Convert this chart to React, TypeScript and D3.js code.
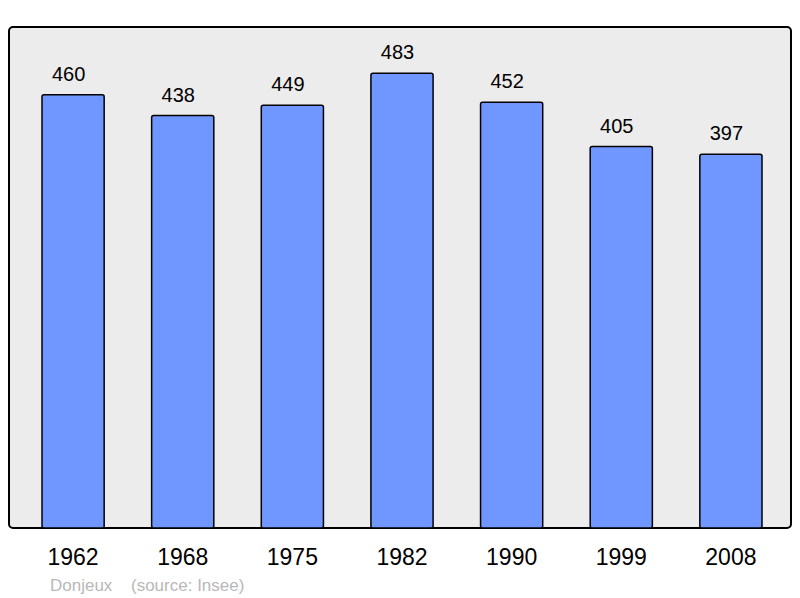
import React from 'react'
import * as d3 from 'd3'

const years = ['1962', '1968', '1975', '1982', '1990', '1999', '2008']
const population = [460, 438, 449, 483, 452, 405, 397]
const town = 'Donjeux'
const source = '(source: Insee)'

export default function App() {
  const width = 800
  const height = 598

  // panel frame
  const panel = { x: 9, y: 27, w: 782, h: 501 }

  const x = d3.scaleBand()
    .domain(years)
    .range([42, 762])
    .paddingInner(0.433)
    .paddingOuter(0)

  const y = d3.scaleLinear()
    .domain([0, 532])
    .range([panel.y + panel.h, panel.y])

  const font = '"Liberation Sans", Arial, sans-serif'

  return (
    <svg width={width} height={height} style={{ position: 'absolute', left: 0, top: 0 }}>
      <rect x={panel.x} y={panel.y} width={panel.w} height={panel.h} rx={4}
        fill="#ececec" stroke="#000" strokeWidth={2} />
      {years.map((yr, i) => {
        const cx = (x(yr) as number) + x.bandwidth() / 2
        return (
          <g key={yr}>
            <rect x={x(yr)} y={y(population[i])} width={x.bandwidth()}
              height={y(0) - y(population[i])} rx={2}
              fill="#7097ff" stroke="#000" strokeWidth={1.5} />
            {/* value labels sit a little left of the bar centre */}
            <text x={cx - 4.5} y={y(population[i]) - 14}
              textAnchor="middle" fontFamily={font} fontSize={20} fill="#000">
              {population[i]}
            </text>
            <text x={cx} y={565}
              textAnchor="middle" fontFamily={font} fontSize={23} fill="#000">
              {yr}
            </text>
          </g>
        )
      })}
      <text x={50} y={591} fontFamily={font} fontSize={17} fill="#b8b8b8">{town}</text>
      <text x={131} y={591} fontFamily={font} fontSize={17} fill="#b8b8b8">{source}</text>
    </svg>
  )
}
